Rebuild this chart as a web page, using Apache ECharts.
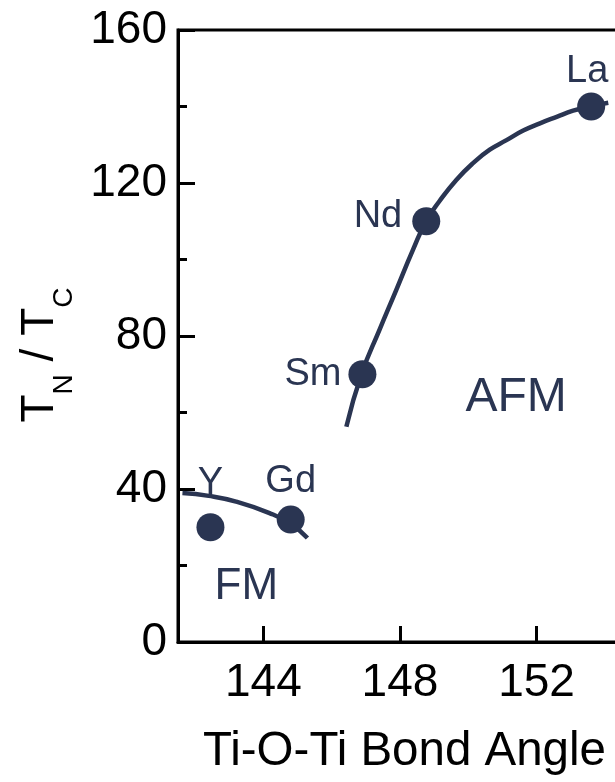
<!DOCTYPE html>
<html>
<head>
<meta charset="utf-8">
<script src="https://cdn.jsdelivr.net/npm/echarts@6/dist/echarts.min.js"></script>
<style>
  html, body { margin: 0; padding: 0; background: #fff; }
  #chart { width: 615px; height: 782px; }
</style>
</head>
<body>
<div id="chart"></div>
<script>
// Rare-earth titanates: ordering temperature vs Ti-O-Ti bond angle
const compounds = ['Y', 'Gd', 'Sm', 'Nd', 'La'];
const bondAngle = [142.45, 144.8, 146.9, 148.77, 153.6];
const orderingTemp = [30, 32, 70, 110, 140];

// Guide curve through the ferromagnetic compounds
const fmCurveX = [141.63, 142.4, 143.2, 144.18, 144.8, 145.29];
const fmCurveY = [38.95, 38.2, 36.7, 33.7, 30.9, 27.2];

// Guide curve through the antiferromagnetic compounds
const afmCurveX = [146.43, 146.88, 147.40, 147.89, 148.38, 148.77, 149.16, 149.65, 150.14, 150.63, 151.12, 151.61, 152.10, 152.59, 153.07, 153.61, 154.10];
const afmCurveY = [56.3, 70.2, 81.6, 92.0, 102.5, 110.1, 115.3, 120.8, 125.2, 128.7, 131.2, 133.7, 135.6, 137.3, 138.9, 140.1, 141.0];

// Phase region annotations
const regionNames = ['AFM', 'FM'];
const regionX = [151.4, 143.5];
const regionY = [63.8, 14.3];
const regionFontSizes = [48, 44];

const xTickValues = [144, 148, 152];

const ink = '#2a3552';
const font = 'Liberation Sans, Arial, sans-serif';

const labelPlacement = {
  Y:  { position: 'top', distance: 11 },
  Gd: { position: 'top', distance: 5 },
  Sm: { position: 'left', distance: 7 },
  Nd: { position: 'left', distance: 10, offset: [0, -5] },
  La: { position: 'top', distance: 2, offset: [-4, 0] }
};

const pointData = compounds.map((name, i) => ({
  name: name,
  value: [bondAngle[i], orderingTemp[i]],
  label: labelPlacement[name]
}));

const chart = echarts.init(document.getElementById('chart'), null, { renderer: 'canvas' });

chart.setOption({
  animation: false,
  backgroundColor: '#fff',
  grid: {
    left: 178, top: 30, bottom: 140, right: -24,
    show: true, borderColor: '#000', borderWidth: 3,
    outerBoundsMode: 'none'
  },
  xAxis: {
    type: 'value',
    min: 141.5,
    max: 155,
    splitLine: { show: false },
    axisLine: { show: true, onZero: false, lineStyle: { color: '#000', width: 3 } },
    axisTick: { show: true, inside: true, length: 16, customValues: xTickValues, lineStyle: { color: '#000', width: 3 } },
    axisLabel: { customValues: xTickValues, margin: 18, fontSize: 46, color: '#000', fontFamily: font },
    name: 'Ti-O-Ti Bond Angle',
    nameLocation: 'middle',
    nameGap: 86,
    nameMoveOverlap: false,
    nameTextStyle: { fontSize: 47.5, color: '#000', fontFamily: font, padding: [0, 8, 0, 0] }
  },
  yAxis: {
    type: 'value',
    min: 0,
    max: 160,
    interval: 40,
    splitLine: { show: false },
    axisLine: { show: true, onZero: false, lineStyle: { color: '#000', width: 3 } },
    axisTick: { show: true, inside: true, length: 17, lineStyle: { color: '#000', width: 3 } },
    minorTick: { show: true, splitNumber: 2, length: 9, lineStyle: { color: '#000', width: 3 } },
    axisLabel: { margin: 11, fontSize: 46, color: '#000', fontFamily: font },
    name: '{t|T}{s|N}{t| / T}{s|C}',
    nameLocation: 'middle',
    nameGap: 115,
    nameRotate: 90,
    nameMoveOverlap: false,
    nameTextStyle: {
      padding: [0, 38, 0, 0],
      rich: {
        t: { fontSize: 46, lineHeight: 46, color: '#000', fontFamily: font, verticalAlign: 'top' },
        s: { fontSize: 28, lineHeight: 28, color: '#000', fontFamily: font, verticalAlign: 'top', padding: [33, 0, 0, 0] }
      }
    }
  },
  series: [
    {
      name: 'FM guide',
      type: 'line',
      data: fmCurveX.map((x, i) => [x, fmCurveY[i]]),
      smooth: 0.5,
      showSymbol: false,
      symbol: 'none',
      lineStyle: { color: ink, width: 4.5 },
      z: 2
    },
    {
      name: 'AFM guide',
      type: 'line',
      data: afmCurveX.map((x, i) => [x, afmCurveY[i]]),
      smooth: 0.5,
      showSymbol: false,
      symbol: 'none',
      lineStyle: { color: ink, width: 4.5 },
      z: 2
    },
    {
      name: 'Compounds',
      type: 'scatter',
      data: pointData,
      symbol: 'circle',
      symbolSize: 28,
      itemStyle: { color: ink, opacity: 1 },
      label: {
        show: true,
        formatter: '{b}',
        fontSize: 38,
        color: ink,
        opacity: 1,
        fontFamily: font
      },
      z: 3
    },
    {
      name: 'Regions',
      type: 'scatter',
      data: regionNames.map((n, i) => ({
        name: n,
        value: [regionX[i], regionY[i]],
        label: { fontSize: regionFontSizes[i] }
      })),
      symbolSize: 0,
      itemStyle: { color: 'transparent', opacity: 1 },
      label: {
        show: true,
        position: 'inside',
        formatter: '{b}',
        color: ink,
        opacity: 1,
        fontFamily: font
      },
      z: 3
    }
  ]
});
</script>
</body>
</html>
